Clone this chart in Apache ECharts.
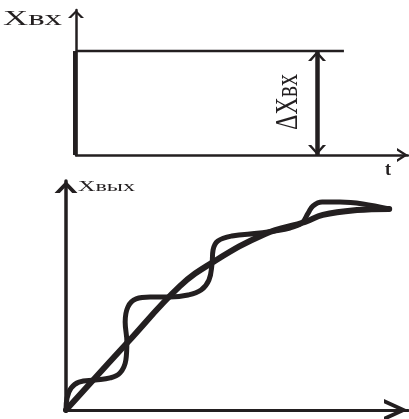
<!DOCTYPE html>
<html>
<head>
<meta charset="utf-8">
<script src="https://cdn.jsdelivr.net/npm/echarts@6/dist/echarts.min.js"></script>
<style>
  html, body { margin: 0; padding: 0; background: #fff; }
  #main { width: 409px; height: 419px; }
</style>
</head>
<body>
<div id="main"></div>
<script>
// входной скачок (верхний график), оси 0..100
const stepLevel = 71.7;
const stepEnd = 80.7;
const deltaAt = 72.6;

// выходная величина: апериодическая кривая
const smoothOut = [
  [0, 0], [18.1, 29.7], [33.3, 54.1], [43.0, 64.6], [58.2, 76.9],
  [69.9, 82.1], [75.1, 85.2], [85.1, 87.3], [94.5, 87.8]
];

// выходная величина: колебательная кривая
const wavyOut = [
  [0, 0], [0.3, 5.2], [1.5, 9.6], [3.8, 12.2], [8.5, 13.1], [12.9, 14.0],
  [15.8, 16.2], [17.5, 21.8], [17.8, 29.7], [17.3, 38.4], [18.1, 45.0],
  [20.5, 48.5], [24.6, 49.3], [30.4, 49.3], [35.7, 50.2], [39.5, 52.4],
  [41.8, 56.8], [42.7, 63.8], [43.0, 69.9], [44.4, 73.8], [48.5, 76.0],
  [56.7, 77.3], [65.5, 79.5], [69.0, 81.7], [70.8, 86.0], [72.2, 89.1],
  [74.9, 90.8], [80.1, 90.8], [86.8, 90.0], [94.5, 87.8]
];

const ink = '#231f20';

// открытая стрелка-«галочка», остриё в центре рамки символа
function chevron(w, h, t) {
  const th = Math.atan2(h, w / 2);
  const a = t / Math.sin(th);
  const c = t / Math.cos(th);
  return 'path://M' + (w / 2) + ',0 M' + (w / 2) + ',' + h +
    ' L' + w + ',' + (2 * h) + ' L' + (w - a) + ',' + (2 * h) +
    ' L' + (w / 2) + ',' + (h + c) + ' L' + a + ',' + (2 * h) +
    ' L0,' + (2 * h) + ' Z';
}

function axis(grid, width, w, h, t) {
  return {
    gridIndex: grid,
    type: 'value',
    min: 0,
    max: 100,
    axisLine: {
      show: true,
      onZero: false,
      symbol: ['none', chevron(w, h, t)],
      symbolSize: [w, 2 * h],
      lineStyle: { color: ink, width: width }
    },
    axisTick: { show: false },
    axisLabel: { show: false },
    splitLine: { show: false }
  };
}

// растянуть/сжать подпись до нужной длины
const ctx = document.createElement('canvas').getContext('2d');
function fitScale(text, font, len) {
  ctx.font = font;
  return len / ctx.measureText(text).width;
}

const fontIn = '20px "Liberation Serif"';
const fontOut = '15px "Liberation Serif"';
const fontDelta = '32px "Liberation Serif"';

const chart = echarts.init(document.getElementById('main'));

chart.setOption({
  animation: false,
  grid: [
    { left: 76, right: 1, top: 10, bottom: 264 },
    { left: 66, right: 1, top: 181, bottom: 9 }
  ],
  xAxis: [axis(0, 2.5, 14, 11, 2.3), axis(1, 3, 22, 24, 3.8)],
  yAxis: [axis(0, 2.5, 16, 8, 2.2), axis(1, 3.5, 23, 12, 3.8)],
  series: [
    {
      type: 'line', xAxisIndex: 0, yAxisIndex: 0, clip: false,
      symbol: 'none',
      data: [[-0.5, 0], [-0.5, stepLevel]],
      lineStyle: { color: ink, width: 6 }
    },
    {
      type: 'line', xAxisIndex: 0, yAxisIndex: 0,
      symbol: 'none',
      data: [[0, stepLevel], [stepEnd, stepLevel]],
      lineStyle: { color: ink, width: 2.5 },
      markLine: {
        silent: true,
        symbol: [chevron(18, 10, 2.4), chevron(18, 10, 2.4)],
        symbolSize: [18, 20],
        label: { show: false },
        lineStyle: { color: ink, width: 4.5, type: 'solid' },
        data: [[{ coord: [deltaAt, 0] }, { coord: [deltaAt, stepLevel] }]]
      }
    },
    {
      type: 'line', xAxisIndex: 1, yAxisIndex: 1,
      symbol: 'none', smooth: 0.4,
      data: smoothOut,
      lineStyle: { color: ink, width: 6, cap: 'round' }
    },
    {
      type: 'line', xAxisIndex: 1, yAxisIndex: 1,
      symbol: 'none', smooth: 0.4,
      data: wavyOut,
      lineStyle: { color: ink, width: 5, cap: 'round' }
    }
  ],
  graphic: [
    {
      type: 'text', x: 3, y: 20, scaleX: fitScale('Xвх', fontIn, 59),
      style: { text: 'Xвх', font: fontIn, fill: ink, verticalAlign: 'middle' }
    },
    {
      type: 'text', x: 78, y: 187, scaleX: fitScale('Xвых', fontOut, 57),
      style: { text: 'Xвых', font: fontOut, fill: ink, verticalAlign: 'middle' }
    },
    {
      type: 'text', x: 388, y: 170,
      style: { text: 't', font: 'bold 18px "Liberation Serif"', fill: ink, align: 'center', verticalAlign: 'middle' }
    },
    {
      type: 'text', x: 289, y: 102, rotation: Math.PI / 2,
      scaleX: fitScale('ΔXвх', fontDelta, 56),
      style: { text: 'ΔXвх', font: fontDelta, fill: ink, align: 'center', verticalAlign: 'middle' }
    }
  ]
});
</script>
</body>
</html>
